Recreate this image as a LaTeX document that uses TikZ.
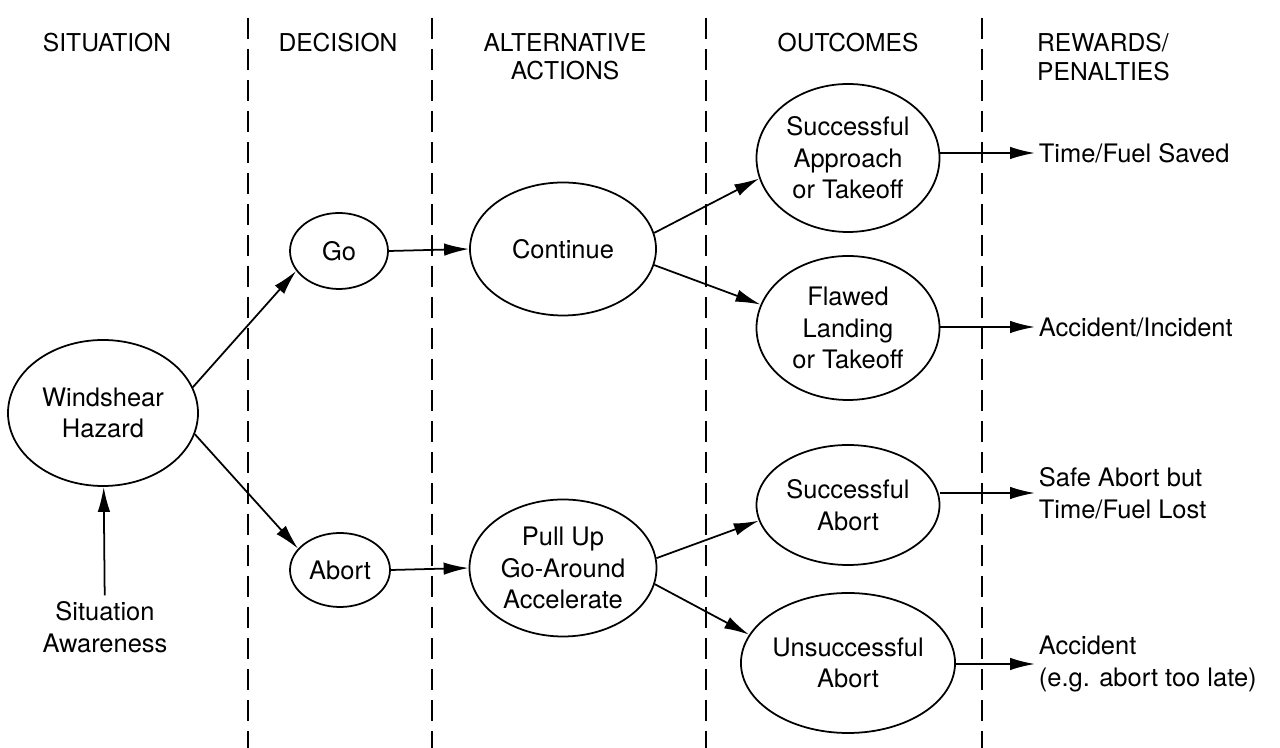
\documentclass[tikz,border=0pt]{standalone}
\usepackage{fontspec}
\setmainfont{TeX Gyre Heros}
\usepackage{tikz}
\usetikzlibrary{shapes.geometric, arrows.meta, positioning}
\tikzstyle{bubble} = [ellipse, draw=black, line width=1pt, inner sep=0pt, text centered, align=center]
\tikzstyle{head} = [align=center, font=\fontsize{14}{16}\selectfont]
\tikzstyle{result} = [anchor=west, align=left, inner sep=2pt]
\tikzstyle{arrow} = [line width=1pt, -{Latex[length=5mm, width=2.5mm]}]
\tikzstyle{divider} = [line width=0.8pt, dash pattern=on 0.42cm off 0.2cm]

\begin{document}
\begin{tikzpicture}[font=\fontsize{14.5}{18}\selectfont]
  \useasboundingbox (0,0) rectangle (25.6,14.96);

  % column headings
  \node (hsit) [head] at (2.14,14.10) {SITUATION};
  \node (hdec) [head] at (6.76,14.10) {DECISION};
  \node (halt) [head] at (11.30,13.82) {ALTERNATIVE\\ACTIONS};
  \node (hout) [head] at (16.96,14.10) {OUTCOMES};
  \node (hrew) [head, anchor=west, align=left] at (20.62,13.82) {REWARDS/\\PENALTIES};

  % column dividers
  \foreach \x in {4.96, 8.64, 14.12, 19.64}
    \draw [divider] (\x,14.6) -- (\x,0);

  \node (wind) [bubble, minimum width=3.8cm, minimum height=2.92cm] at (2.06,6.70) {Windshear\\Hazard};
  \node (aware) [align=center] at (2.10,2.42) {Situation\\Awareness};
  \node (go) [bubble, minimum width=1.96cm, minimum height=1.52cm] at (6.78,9.94) {Go};
  \node (abort) [bubble, minimum width=2.0cm, minimum height=1.48cm] at (6.80,3.56) {Abort};
  \node (cont) [bubble, minimum width=3.72cm, minimum height=2.66cm] at (11.26,9.98) {Continue};
  \node (pull) [bubble, minimum width=3.74cm, minimum height=2.74cm] at (11.26,3.60) {Pull Up\\Go-Around\\Accelerate};
  \node (succ) [bubble, minimum width=3.66cm, minimum height=2.96cm] at (16.96,11.80) {Successful\\Approach\\or Takeoff};
  \node (flaw) [bubble, minimum width=3.66cm, minimum height=2.88cm] at (16.96,8.40) {Flawed\\Landing\\or Takeoff};
  \node (sabort) [bubble, minimum width=3.66cm, minimum height=2.40cm] at (16.96,4.86) {Successful\\Abort};
  \node (uabort) [bubble, minimum width=3.66cm, minimum height=2.80cm] at (16.96,1.70) {Unsuccessful\\Abort};

  \node (saved) [result] at (20.70,11.90) {Time/Fuel Saved};
  \node (incident) [result] at (20.70,8.42) {Accident/Incident};
  \node (safe) [result] at (20.70,5.10) {Safe Abort but\\Time/Fuel Lost};
  \node (accident) [result] at (20.70,1.68) {Accident\\(e.g. abort too late)};

  \draw [arrow] (aware) -- (wind);
  \draw [arrow] (wind.16) -- (go.205);
  \draw [arrow] (wind.-13) -- (abort.153);
  \draw [arrow] (go.east) -- (cont.west);
  \draw [arrow] (abort.east) -- (pull.west);
  \draw [arrow] (cont.10) -- (succ.193);
  \draw [arrow] (cont.-10) -- (flaw.165);
  \draw [arrow] (pull.6) -- (sabort.190);
  \draw [arrow] (pull.-10) -- (uabort.164);
  \draw [arrow] (succ.east |- saved) -- (saved);
  \draw [arrow] (flaw.east |- incident) -- (incident);
  \draw [arrow] (sabort.east |- safe) -- (safe);
  \draw [arrow] (uabort.east |- accident) -- (accident);
\end{tikzpicture}
\end{document}
